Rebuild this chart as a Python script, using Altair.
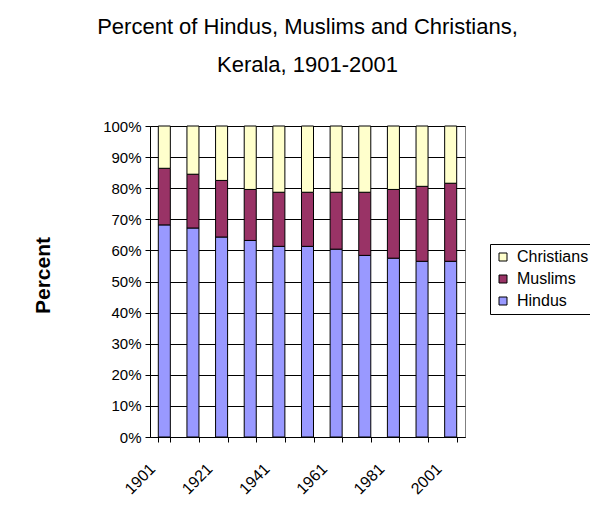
import altair as alt
import pandas as pd

years = ["1901", "1911", "1921", "1931", "1941", "1951", "1961", "1971", "1981", "1991", "2001"]
hindus = [68.2, 67.2, 64.3, 63.2, 61.3, 61.3, 60.4, 58.4, 57.5, 56.5, 56.5]
muslims = [18.2, 17.3, 18.2, 16.4, 17.4, 17.4, 18.3, 20.3, 22.1, 24.1, 25.1]
christians = [13.6, 15.5, 17.5, 20.4, 21.3, 21.3, 21.3, 21.3, 20.4, 19.4, 18.4]
shown_labels = ["1901", "1921", "1941", "1961", "1981", "2001"]

groups = ["Christians", "Muslims", "Hindus"]
colors = ["#FFFFCC", "#993366", "#9999FF"]
stack_order = {"Hindus": 0, "Muslims": 1, "Christians": 2}

rows = []
for i, y in enumerate(years):
    for g, vals in (("Hindus", hindus), ("Muslims", muslims), ("Christians", christians)):
        rows.append({"year": y, "group": g, "value": vals[i], "ord": stack_order[g]})
df = pd.DataFrame(rows)

label_expr = "indexof(" + str(shown_labels) + ", datum.label) >= 0 ? datum.label : ''"

FONT = "Liberation Sans"

chart = alt.Chart(df).mark_bar(stroke="black", strokeWidth=1).encode(
    x=alt.X("year:N", sort=years, title=None,
            scale=alt.Scale(paddingInner=0.58, paddingOuter=0.29),
            axis=alt.Axis(labelAngle=-45, labelAlign="right", labelBaseline="middle",
                          labelExpr=label_expr, tickBand="extent", grid=False,
                          labelPadding=24, labelOffset=-12, labelFontSize=16,
                          tickSize=5, labelFont=FONT, domainColor="black",
                          tickColor="black", labelColor="black")),
    y=alt.Y("value:Q", stack="normalize", title="Percent",
            scale=alt.Scale(domain=[0, 1], nice=False),
            axis=alt.Axis(format=".0%", values=[i / 10 for i in range(11)],
                          grid=True, gridColor="black", gridOpacity=1, gridWidth=1,
                          tickSize=5, labelPadding=4, labelFontSize=15, labelFont=FONT,
                          domainColor="black", tickColor="black", labelColor="black",
                          titleFont=FONT, titleFontSize=21, titleFontWeight="bold",
                          titleColor="black", titleX=-107, titleY=149, titleAngle=-90,
                          titleAlign="center", titleBaseline="middle")),
    color=alt.Color("group:N", scale=alt.Scale(domain=groups, range=colors),
                    legend=alt.Legend(title=None, orient="none", legendX=340, legendY=118,
                                      symbolType="square", symbolSize=64,
                                      symbolStrokeColor="black", symbolStrokeWidth=1,
                                      labelFontSize=16, labelFont=FONT, labelColor="black",
                                      rowPadding=6, padding=5, strokeColor="black",
                                      fillColor="white", labelOffset=6)),
    order=alt.Order("ord:Q", sort="ascending"),
).properties(
    width=315,
    height=311,
    title=alt.Title(["Percent of Hindus, Muslims and Christians,", "Kerala, 1901-2001"],
                    fontSize=22, font=FONT, fontWeight="normal", color="black",
                    anchor="middle", lineHeight=38, offset=42),
    autosize=alt.AutoSizeParams(type="none"),
    padding={"left": 142, "top": 118, "right": 125, "bottom": 77},
).configure_view(stroke="#808080", strokeWidth=1)

chart.save("out.html", embed_options={"renderer": "svg", "actions": False})
